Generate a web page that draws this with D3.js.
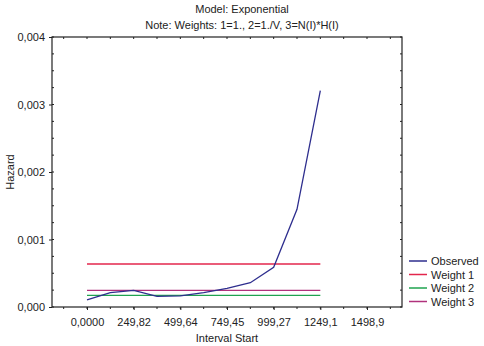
<!DOCTYPE html>
<html><head><meta charset="utf-8">
<script src="https://cdn.jsdelivr.net/npm/d3@7"></script>
<style>body{margin:0;background:#fff}svg{display:block;font-family:Arial,"Liberation Sans",sans-serif}</style>
</head><body><svg id="c" width="484" height="346"></svg>
<script>
const intervalStart = [0, 124.91, 249.82, 374.73, 499.64, 624.55, 749.45, 874.36, 999.27, 1124.18, 1249.1];
const observed = [0.000104, 0.000212, 0.000247, 0.000158, 0.000165, 0.000212, 0.000277, 0.00036, 0.000588, 0.001447, 0.003204];
const weight1 = 0.000637;
const weight2 = 0.000173;
const weight3 = 0.000247;
const xTickValues = [0, 249.82, 499.64, 749.45, 999.27, 1249.1, 1498.9];
const xTickLabels = ["0,0000", "249,82", "499,64", "749,45", "999,27", "1249,1", "1498,9"];
const yTickValues = [0, 0.001, 0.002, 0.003, 0.004];
const yTickLabels = ["0,000", "0,001", "0,002", "0,003", "0,004"];
const seriesNames = ["Observed", "Weight 1", "Weight 2", "Weight 3"];
const colors = ["#2e2e8e", "#e3264c", "#1fa34f", "#b0327c"];

const svg = d3.select("#c");
const L = 52, R = 402, T = 37, B = 307;
const step = 124.91;
const x = d3.scaleLinear().domain([-1.5 * step, 13.5 * step]).range([L, R]);
const y = d3.scaleLinear().domain([0, 0.004]).range([B, T]);

// titles
svg.append("text").attr("x", 242).attr("y", 13).attr("text-anchor", "middle").attr("font-size", 11).attr("fill", "#222").text("Model: Exponential");
svg.append("text").attr("x", 242).attr("y", 29).attr("text-anchor", "middle").attr("font-size", 11).attr("fill", "#222").text("Note: Weights: 1=1., 2=1./V, 3=N(I)*H(I)");

// minor tick positions
const xMinor = d3.range(-1, 14).map(i => i * step);
const yMinor = d3.range(0, 17).map(i => i * 0.00025);

// bottom axis
const gx = svg.append("g").attr("transform", `translate(0,${B})`)
  .call(d3.axisBottom(x).tickValues(xTickValues).tickFormat((d, i) => xTickLabels[i]).tickSize(3).tickPadding(8));
gx.select(".domain").remove();
gx.selectAll("text").attr("font-size", 11).attr("fill", "#222").attr("font-family", "Arial, 'Liberation Sans', sans-serif");
gx.selectAll("line").attr("stroke", "#222");
svg.append("g").selectAll("line").data(xMinor).join("line")
  .attr("x1", d => x(d)).attr("x2", d => x(d)).attr("y1", B).attr("y2", B + 2).attr("stroke", "#222");
// top ticks inward
svg.append("g").selectAll("line").data(xMinor).join("line")
  .attr("x1", d => x(d)).attr("x2", d => x(d)).attr("y1", T).attr("y2", T + 2).attr("stroke", "#222");

// left axis
const gy = svg.append("g").attr("transform", `translate(${L},0)`)
  .call(d3.axisLeft(y).tickValues(yTickValues).tickFormat((d, i) => yTickLabels[i]).tickSize(3).tickPadding(4));
gy.select(".domain").remove();
gy.selectAll("text").attr("font-size", 11).attr("fill", "#222").attr("font-family", "Arial, 'Liberation Sans', sans-serif");
gy.selectAll("line").attr("stroke", "#222");
svg.append("g").selectAll("line").data(yMinor).join("line")
  .attr("x1", L).attr("x2", L + 2).attr("y1", d => y(d)).attr("y2", d => y(d)).attr("stroke", "#222");
svg.append("g").selectAll("line").data(yMinor).join("line")
  .attr("x1", R - 2).attr("x2", R).attr("y1", d => y(d)).attr("y2", d => y(d)).attr("stroke", "#222");

// frame
svg.append("rect").attr("x", L).attr("y", T).attr("width", R - L).attr("height", B - T)
  .attr("fill", "none").attr("stroke", "#222").attr("stroke-width", 1.2);

// axis titles
svg.append("text").attr("transform", `translate(14,${(T + B) / 2}) rotate(-90)`).attr("text-anchor", "middle")
  .attr("font-size", 11).attr("fill", "#222").text("Hazard");
svg.append("text").attr("x", 227).attr("y", 342).attr("text-anchor", "middle")
  .attr("font-size", 11).attr("fill", "#222").text("Interval Start");

// series
const xMin = intervalStart[0], xMax = intervalStart[intervalStart.length - 1];
const flat = [weight1, weight2, weight3];
const plot = svg.append("g");
flat.forEach((v, i) => {
  plot.append("line").attr("x1", x(xMin)).attr("x2", x(xMax)).attr("y1", y(v)).attr("y2", y(v))
    .attr("stroke", colors[i + 1]).attr("stroke-width", 1.3);
});
const line = d3.line().x((d, i) => x(intervalStart[i])).y(d => y(d));
plot.append("path").datum(observed).attr("d", line).attr("fill", "none")
  .attr("stroke", colors[0]).attr("stroke-width", 1.3);

// legend
const lg = svg.append("g");
seriesNames.forEach((n, i) => {
  const yy = 261 + i * 13.5;
  lg.append("line").attr("x1", 409).attr("x2", 427).attr("y1", yy).attr("y2", yy).attr("stroke", colors[i]).attr("stroke-width", 1.5);
  lg.append("text").attr("x", 431).attr("y", yy + 4).attr("font-size", 11).attr("fill", "#222").text(n);
});
</script></body></html>
